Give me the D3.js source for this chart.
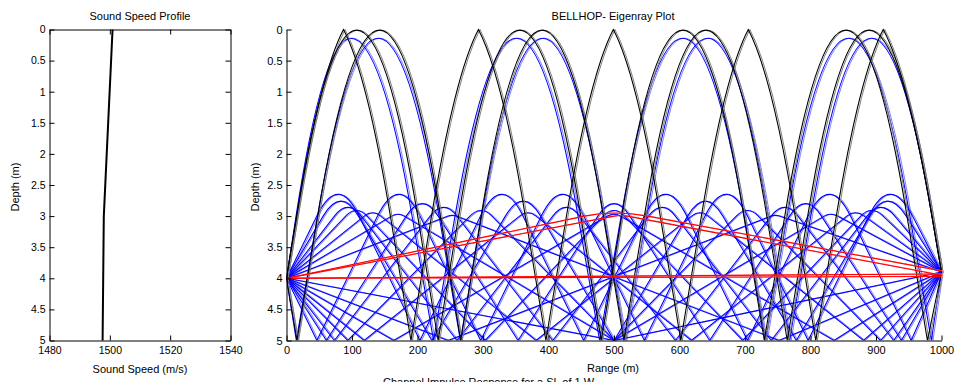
<!DOCTYPE html>
<html><head><meta charset="utf-8">
<script src="https://cdn.jsdelivr.net/npm/d3@7"></script>
<style>
body{margin:0;background:#fff}
svg text{font-family:Arial,"Liberation Sans",Helvetica,sans-serif;fill:#000}
</style></head>
<body><svg id="c" width="956" height="382"></svg>
<script>
// ---------------- data ----------------
const depthTicks = [0,0.5,1,1.5,2,2.5,3,3.5,4,4.5,5];
const speedTicks = [1480,1500,1520,1540];
const rangeTicks = [0,100,200,300,400,500,600,700,800,900,1000];

// sound speed profile
const ssDepth = [0, 3, 5];
const ssSpeed = [1500.9, 1498.0, 1497.6];

// eigenrays: vertices [range, depth] = source, turning points / bounces, receiver
const blueRays = [
  [[0,4],[252.6,2.988],[751.7,5],[1000,3.9]],
  [[0,4],[246.5,5],[745.6,2.988],[1000,3.9]],
  [[0,4],[131.2,2.947],[381,5],[631,2.947],[881,5],[1000,3.9]],
  [[0,4],[118.6,5],[368.4,2.947],[618.2,5],[868,2.947],[1000,3.9]],
  [[0,4],[93.6,2.86],[260.3,5],[427,2.86],[593.7,5],[760.4,2.86],[927,5],[1000,3.9]],
  [[0,4],[73.1,5],[239.8,2.86],[406.5,5],[573.2,2.86],[740,5],[906.7,2.86],[1000,3.9]],
  [[0,4],[78.7,2.65],[203.7,5],[328.7,2.65],[453.7,5],[578.7,2.65],[703.7,5],[828.7,2.65],[953.7,5],[1000,3.9]],
  [[0,4],[46.4,5],[171.4,2.65],[296.4,5],[421.4,2.65],[546.4,5],[671.4,2.65],[796.4,5],[921.4,2.65],[1000,3.9]],
  [[0,4],[98,0.14],[224.5,5],[351,0.14],[478,5],[605,0.14],[731.5,5],[858,0.14],[984.5,5],[1000,3.9]],
  [[0,4],[15,5],[140,0.14],[265.5,5],[391,0.14],[517,5],[643,0.14],[768,5],[893,0.14],[1000,3.9]],
  [[0,4],[169.8,2.97],[500.1,5],[830.4,2.97],[1000,3.9]],
  [[0,4],[106.6,2.91],[303.2,5],[499.8,2.91],[696.4,5],[893,2.91],[1000,3.9]],
  [[0,4],[82.9,2.76],[222,5],[361.1,2.76],[500.2,5],[639.3,2.76],[778.4,5],[917.5,2.76],[1000,3.9]],
  [[0,4],[500,5],[1000,3.9]],
  [[0,4],[163.5,5],[499.7,2.97],[835.9,5],[1000,3.9]],
  [[0,4],[93.6,5],[296.9,2.91],[500.2,5],[703.5,2.91],[906.8,5],[1000,3.9]],
  [[0,4],[60.9,5],[207.2,2.80],[353.5,5],[499.8,2.80],[646.1,5],[792.4,2.80],[938.7,5],[1000,3.9]]
];
const blackRays = [
  [[0,4],[107,0.01],[231.5,5],[356,0.01],[480.5,5],[605,0.01],[729.5,5],[854,0.01],[978.5,5],[1000,3.9]],
  [[0,4],[16,5],[142,0.01],[266,5],[390,0.01],[515,5],[640,0.01],[764.5,5],[889,0.01],[1000,3.9]],
  [[0,4],[87,0],[190,5],[293,0],[396,5],[499,0],[602,5],[705,0],[808,5],[911,0],[1000,3.9]]
];
// virtual turning depth above the surface for surface-reflected rays
const blackSurfaceApex = [null, null, -0.33];
const redRays = [
  [[0,4],[500,2.95],[1000,3.88]],
  [[0,4],[510,2.99],[1000,3.95]],
  [[0,4],[1000,3.93]],
  [[0,4],[1000,3.97]]
];

// ---------------- layout ----------------
const svg = d3.select("#c");
const L = {x0:49.5, x1:230.5, y0:29.5, y1:340.5};
const R = {x0:286.5, x1:941.5, y0:29.5, y1:340.5};
const fmt = d3.format("");

function styleAxis(g, fs){
  g.selectAll("path.domain").attr("stroke","#000").attr("stroke-width",1);
  g.selectAll(".tick line").attr("stroke","#000");
  g.selectAll(".tick text").attr("font-size",fs).attr("fill","#000")
    .style("font-family","Arial, 'Liberation Sans', sans-serif");
}

// ----- left panel: sound speed profile -----
const xS = d3.scaleLinear().domain([1480,1540]).range([L.x0,L.x1]);
const yL = d3.scaleLinear().domain([0,5]).range([L.y0,L.y1]);
const gl = svg.append("g");
gl.append("g").attr("transform",`translate(${L.x0},0)`)
  .call(d3.axisLeft(yL).tickValues(depthTicks).tickFormat(fmt).tickSize(-5).tickSizeOuter(0).tickPadding(4))
  .call(g=>styleAxis(g,10.5));
gl.append("g").attr("transform",`translate(${L.x1},0)`)
  .call(d3.axisRight(yL).tickValues(depthTicks).tickFormat("").tickSize(-5).tickSizeOuter(0))
  .call(g=>styleAxis(g,10.5));
gl.append("g").attr("transform",`translate(0,${L.y1})`)
  .call(d3.axisBottom(xS).tickValues(speedTicks).tickFormat(fmt).tickSize(-5).tickSizeOuter(0).tickPadding(6.5))
  .call(g=>styleAxis(g,10.5));
gl.append("g").attr("transform",`translate(0,${L.y0})`)
  .call(d3.axisTop(xS).tickValues(speedTicks).tickFormat("").tickSize(-5).tickSizeOuter(0))
  .call(g=>styleAxis(g,10.5));
gl.append("path")
  .datum(ssDepth.map((d,i)=>[ssSpeed[i],d]))
  .attr("fill","none").attr("stroke","#000").attr("stroke-width",2)
  .attr("d", d3.line().x(d=>xS(d[0])).y(d=>yL(d[1])));
gl.append("text").attr("x",(L.x0+L.x1)/2).attr("y",20).attr("text-anchor","middle")
  .attr("font-size",11).text("Sound Speed Profile");
gl.append("text").attr("x",(L.x0+L.x1)/2).attr("y",373).attr("text-anchor","middle")
  .attr("font-size",11).text("Sound Speed (m/s)");
gl.append("text").attr("transform",`translate(19,187) rotate(-90)`).attr("text-anchor","middle")
  .attr("font-size",11).text("Depth (m)");

// ----- right panel: eigenrays -----
const xR = d3.scaleLinear().domain([0,1000]).range([R.x0,R.x1]);
const yR = d3.scaleLinear().domain([0,5]).range([R.y0,R.y1]);
const gr = svg.append("g");
svg.append("defs").append("clipPath").attr("id","clipR")
  .append("rect").attr("x",R.x0).attr("y",R.y0-1).attr("width",R.x1-R.x0+2).attr("height",R.y1-R.y0+1);

const KNEE = ssDepth[1];      // bottom of the gradient layer
const BOTTOM = ssDepth[ssDepth.length-1];

function turnGeom(T, P, v){
  const h = KNEE - v;
  const r = Math.sqrt(Math.max(T[1]-v,0)/h);
  const D = Math.abs(P[0]-T[0]);
  const dir = Math.sign(P[0]-T[0]) || 1;
  const d = 2*h*D/(P[1]-KNEE+2*h-2*h*r);
  const x0 = T[0]-dir*d*r;
  return {knee:[x0+dir*d, KNEE], ctrl:[x0+dir*(d*r+d)/2, v+h*r]};
}
function rayPath(pts, vSurf){
  const n = pts.length;
  const isTurn = i => i>0 && i<n-1 && pts[i][1] < BOTTOM;
  const vOf = i => (pts[i][1] <= 0 && vSurf != null) ? vSurf : pts[i][1];
  const p = d3.path();
  const X = d=>xR(d[0]), Y = d=>yR(d[1]);
  p.moveTo(X(pts[0]),Y(pts[0]));
  for(let i=0;i<n-1;i++){
    const A=pts[i], B=pts[i+1];
    if(isTurn(i+1)){
      const g = turnGeom(B,A,vOf(i+1));
      p.lineTo(X(g.knee),Y(g.knee));
      p.quadraticCurveTo(X(g.ctrl),Y(g.ctrl),X(B),Y(B));
    } else if(isTurn(i)){
      const g = turnGeom(A,B,vOf(i));
      p.quadraticCurveTo(X(g.ctrl),Y(g.ctrl),X(g.knee),Y(g.knee));
      p.lineTo(X(B),Y(B));
    } else p.lineTo(X(B),Y(B));
  }
  return p.toString();
}

const rg = gr.append("g").attr("clip-path","url(#clipR)");
function drawSet(rays, col, col2, surf){
  // neighbouring beam (lighter) + main beam
  rg.append("g").attr("transform","translate(1.6,0)").selectAll("path").data(rays).join("path")
    .attr("d",(d,i)=>rayPath(d, surf?surf[i]:null))
    .attr("fill","none").attr("stroke",col2).attr("stroke-width",1);
  rg.append("g").selectAll("path").data(rays).join("path")
    .attr("d",(d,i)=>rayPath(d, surf?surf[i]:null))
    .attr("fill","none").attr("stroke",col).attr("stroke-width",1.1);
}
drawSet(blueRays, "#0000ff", "#7f7fff", null);
drawSet(blackRays, "#000000", "#808080", blackSurfaceApex);
drawSet(redRays, "#ff0000", "#ff8080", null);

gr.append("g").attr("transform",`translate(${R.x0},0)`)
  .call(d3.axisLeft(yR).tickValues(depthTicks).tickFormat(fmt).tickSize(-5).tickSizeOuter(0).tickPadding(4))
  .call(g=>styleAxis(g,11));
gr.append("g").attr("transform",`translate(0,${R.y1})`)
  .call(d3.axisBottom(xR).tickValues(rangeTicks).tickFormat(fmt).tickSize(-5).tickSizeOuter(0).tickPadding(6))
  .call(g=>styleAxis(g,11));
gr.append("text").attr("x",613).attr("y",20).attr("text-anchor","middle")
  .attr("font-size",11).text("BELLHOP- Eigenray Plot");
gr.append("text").attr("x",613).attr("y",372).attr("text-anchor","middle")
  .attr("font-size",11).text("Range (m)");
gr.append("text").attr("transform",`translate(259,187) rotate(-90)`).attr("text-anchor","middle")
  .attr("font-size",11).text("Depth (m)");
svg.append("text").attr("x",383).attr("y",386).attr("font-size",11)
  .text("Channel Impulse Response for a SL of 1 W");
</script></body></html>
